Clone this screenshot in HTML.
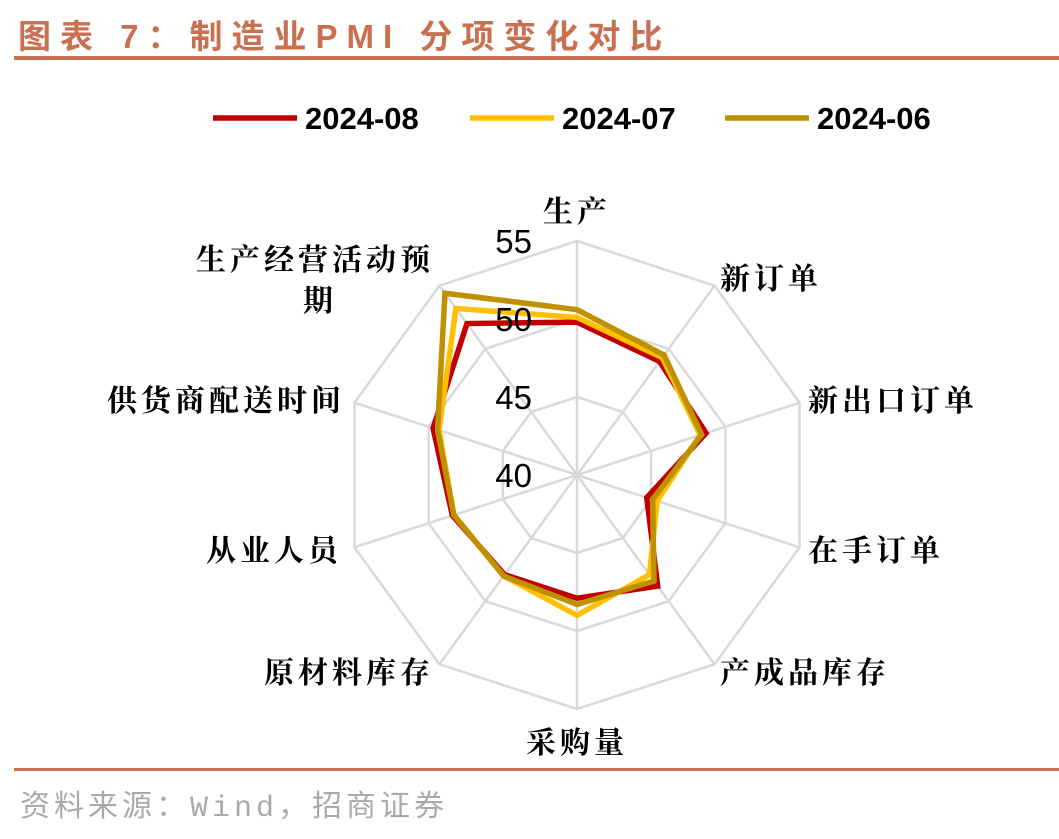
<!DOCTYPE html>
<html><head><meta charset="utf-8">
<style>
body{margin:0;width:1059px;height:839px;background:#fff;overflow:hidden;position:relative;font-family:"Liberation Sans","Noto Sans CJK SC",sans-serif}
#title{position:absolute;left:18px;top:10px;font-size:33px;font-weight:bold;color:#c87050;letter-spacing:9px;font-family:"Liberation Sans","Noto Sans CJK SC",sans-serif;white-space:nowrap}
#rule{position:absolute;left:14px;top:56px;width:1045px;height:4px;background:#c87050}
#rule2{position:absolute;left:14px;top:768px;width:1045px;height:3px;background:#c87050}
#src{position:absolute;left:20px;top:781px;font-size:30px;color:#aaa;letter-spacing:4px;white-space:nowrap;font-family:"Liberation Mono","Noto Sans CJK SC",monospace}
svg{position:absolute;left:0;top:0}
</style></head><body>
<div id="title">图表 7：制造业PMI 分项变化对比</div>
<div id="rule"></div>
<svg id="chart" width="1059" height="839"></svg>
<div id="rule2"></div>
<div id="src">资料来源：Wind，招商证券</div>
<script>
const categories=["生产","新订单","新出口订单","在手订单","产成品库存","采购量","原材料库存","从业人员","供货商配送时间","生产经营活动预期"];
const seriesNames=["2024-08","2024-07","2024-06"];
const aug=[49.8,49.0,48.7,44.7,48.8,47.9,47.9,48.4,49.7,52.0];
const jul=[50.1,49.3,48.3,45.4,47.9,49.0,48.0,48.3,49.3,53.2];
const jun=[50.6,49.5,48.4,45.1,48.4,48.3,48.0,48.3,49.4,54.4];
const ticks=[40,45,50,55];
const colors=["#c00000","#ffc000","#bf9000"];
const NS="http://www.w3.org/2000/svg";
const svg=document.getElementById('chart');
const cx=577,cy=475,R=234,vmin=40,vmax=55;
function rad(v){return (v-vmin)/(vmax-vmin)*R;}
function pt(i,v){const a=i*2*Math.PI/categories.length;const r=rad(v);return [cx+r*Math.sin(a),cy-r*Math.cos(a)];}
function mk(t,attrs){const e=document.createElementNS(NS,t);for(const k in attrs)e.setAttribute(k,attrs[k]);svg.appendChild(e);return e;}
ticks.slice(1).forEach(t=>{
  const p=categories.map((c,i)=>pt(i,t).join(',')).join(' ');
  const e=mk('polygon',{points:p,fill:'none',stroke:'#d9d9d9','stroke-width':2.5});
  
  
});
categories.forEach((c,i)=>{
  const [x,y]=pt(i,vmax);
  const e=mk('line',{x1:cx,y1:cy,x2:x,y2:y,stroke:'#d9d9d9','stroke-width':2.5});
  
  
});
const data=[aug,jul,jun];
[0,1,2].forEach(k=>{
  const p=data[k].map((v,i)=>pt(i,v).join(',')).join(' ');
  const e=mk('polygon',{points:p,fill:'none',stroke:colors[k],'stroke-width':5.5,'stroke-linejoin':'miter'});
  
  
});
ticks.forEach(t=>{
  const e=mk('text',{x:532,y:cy-rad(t)+12,'text-anchor':'end','font-size':33,fill:'#000','font-family':'Liberation Sans, sans-serif'});
  e.textContent=t;
  
  
});
const labelPos=[[577,222,'middle'],[720,289,'start'],[808,411,'start'],[808,561,'start'],[720,683,'start'],[577,753,'middle'],[434,683,'end'],[342,561,'end'],[345,411,'end'],[434,270,'end']];
categories.forEach((c,i)=>{
  const [x,y,a]=labelPos[i];
  const e=mk('text',{x:x,y:y,'text-anchor':a,'font-size':30,'font-weight':'bold',fill:'#000','letter-spacing':'4','font-family':'Liberation Serif, Noto Serif CJK SC, serif'});
  if(i===9){
    e.textContent='生产经营活动预';
    const e2=mk('text',{x:318,y:311,'text-anchor':'middle','font-size':30,'font-weight':'bold',fill:'#000','font-family':'Liberation Serif, Noto Serif CJK SC, serif'});
    e2.textContent='期';
    
    
  } else e.textContent=c;
  
  
});
const lx=[213,470,725];
seriesNames.forEach((n,k)=>{
  const l=mk('line',{x1:lx[k],y1:118,x2:lx[k]+84,y2:118,stroke:colors[k],'stroke-width':5.5});
  
  
  const t=mk('text',{x:lx[k]+92,y:129,'font-size':31,'font-weight':'bold',fill:'#000','font-family':'Liberation Sans, sans-serif'});
  t.textContent=n;
  
  
});
</script>
</body></html>
